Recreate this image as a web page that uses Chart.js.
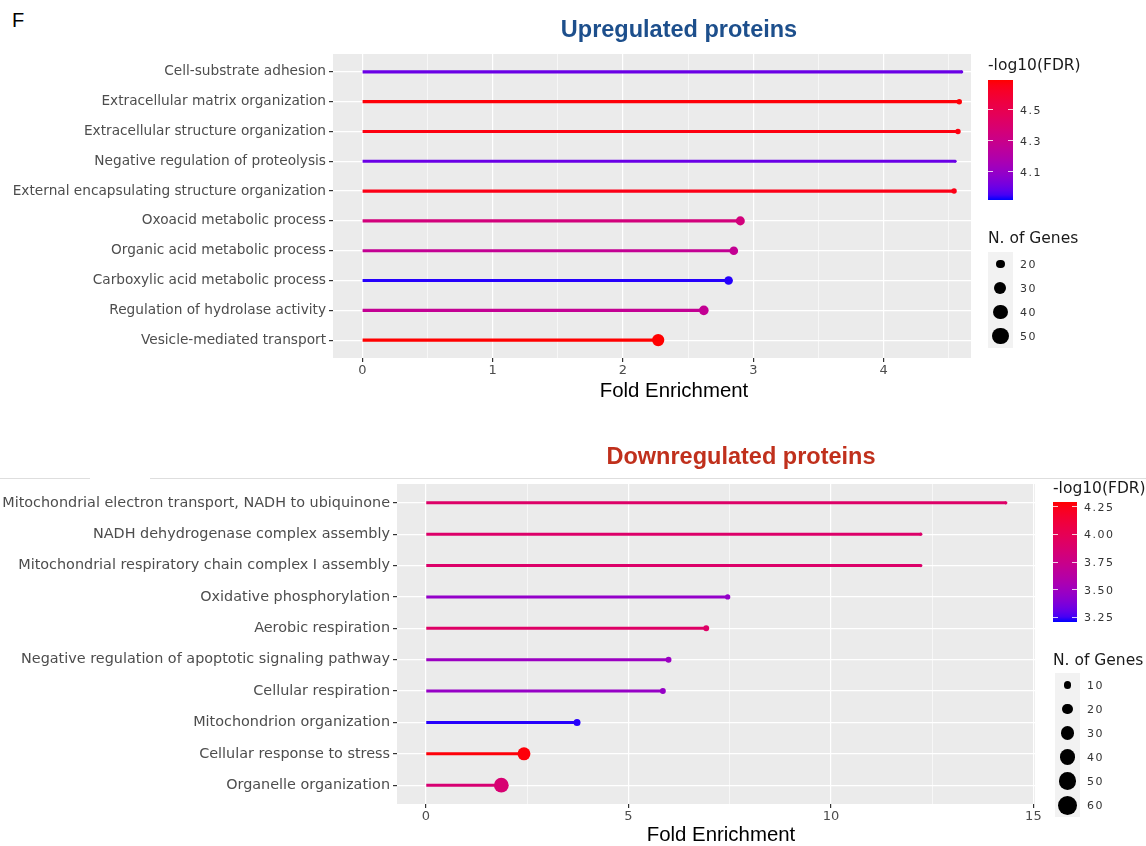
<!DOCTYPE html>
<html>
<head>
<meta charset="utf-8">
<script src="https://cdn.jsdelivr.net/npm/chart.js@4.4.1/dist/chart.umd.min.js"></script>
<style>
  html, body { margin: 0; padding: 0; background: #fff; }
  body { width: 1146px; height: 846px; position: relative; overflow: hidden; font-family: "DejaVu Sans", sans-serif; }
  .t { position: absolute; white-space: nowrap; line-height: 1; }
  canvas { position: absolute; left: 0; }
</style>
</head>
<body>
<script>
// ---- Upregulated proteins ----
const upTerms = [
  'Cell-substrate adhesion',
  'Extracellular matrix organization',
  'Extracellular structure organization',
  'Negative regulation of proteolysis',
  'External encapsulating structure organization',
  'Oxoacid metabolic process',
  'Organic acid metabolic process',
  'Carboxylic acid metabolic process',
  'Regulation of hydrolase activity',
  'Vesicle-mediated transport'
];
const upFold = [4.60, 4.58, 4.57, 4.55, 4.54, 2.90, 2.85, 2.81, 2.62, 2.27];
const upLogFdr = [4.00, 4.68, 4.67, 4.00, 4.66, 4.35, 4.27, 3.93, 4.27, 4.69];
const upGenes = [12, 18, 18, 12, 18, 32, 30, 30, 35, 50];
const upFoldTicks = [0, 1, 2, 3, 4];
const upFdrTicks = [4.1, 4.3, 4.5];
const upGeneBreaks = [20, 30, 40, 50];

// ---- Downregulated proteins ----
const downTerms = [
  'Mitochondrial electron transport, NADH to ubiquinone',
  'NADH dehydrogenase complex assembly',
  'Mitochondrial respiratory chain complex I assembly',
  'Oxidative phosphorylation',
  'Aerobic respiration',
  'Negative regulation of apoptotic signaling pathway',
  'Cellular respiration',
  'Mitochondrion organization',
  'Cellular response to stress',
  'Organelle organization'
];
const downFold = [14.32, 12.22, 12.22, 7.45, 6.92, 5.99, 5.85, 3.73, 2.42, 1.86];
const downLogFdr = [3.91, 3.90, 3.90, 3.45, 3.92, 3.48, 3.46, 3.22, 4.28, 3.86];
const downGenes = [3, 3, 3, 8, 10, 10, 10, 14, 47, 61];
const downFoldTicks = [0, 5, 10, 15];
const downFdrTicks = [3.25, 3.50, 3.75, 4.00, 4.25];
const downGeneBreaks = [10, 20, 30, 40, 50, 60];

// ---- colour gradient blue -> red interpolated in CIELAB ----
function toLin(c) { c /= 255; return c <= 0.04045 ? c / 12.92 : Math.pow((c + 0.055) / 1.055, 2.4); }
function toSrgb(c) { const v = c <= 0.0031308 ? 12.92 * c : 1.055 * Math.pow(c, 1 / 2.4) - 0.055; return Math.round(Math.max(0, Math.min(1, v)) * 255); }
function rgbToLab(rgb) {
  const r = toLin(rgb[0]), g = toLin(rgb[1]), b = toLin(rgb[2]);
  const X = (0.4124 * r + 0.3576 * g + 0.1805 * b) / 0.95047;
  const Y = 0.2126 * r + 0.7152 * g + 0.0722 * b;
  const Z = (0.0193 * r + 0.1192 * g + 0.9505 * b) / 1.08883;
  const f = t => t > 0.008856 ? Math.cbrt(t) : 7.787 * t + 16 / 116;
  const fx = f(X), fy = f(Y), fz = f(Z);
  return [116 * fy - 16, 500 * (fx - fy), 200 * (fy - fz)];
}
function labToRgb(lab) {
  const fy = (lab[0] + 16) / 116, fx = fy + lab[1] / 500, fz = fy - lab[2] / 200;
  const inv = t => t * t * t > 0.008856 ? t * t * t : (t - 16 / 116) / 7.787;
  const X = inv(fx) * 0.95047, Y = inv(fy), Z = inv(fz) * 1.08883;
  const r = 3.2406 * X - 1.5372 * Y - 0.4986 * Z;
  const g = -0.9689 * X + 1.8758 * Y + 0.0415 * Z;
  const b = 0.0557 * X - 0.2040 * Y + 1.0570 * Z;
  return [toSrgb(r), toSrgb(g), toSrgb(b)];
}
const LAB_LO = rgbToLab([0, 0, 255]);
const LAB_HI = rgbToLab([255, 0, 0]);
function gradColor(v, lo, hi) {
  const t = Math.max(0, Math.min(1, (v - lo) / (hi - lo)));
  const lab = LAB_LO.map((c, i) => c + (LAB_HI[i] - c) * t);
  const rgb = labToRgb(lab);
  return 'rgb(' + rgb.join(',') + ')';
}

// point size: area grows linearly with gene count
function dotDiameter(n, sz) { return sz.k * Math.sqrt(Math.max(0, sz.a + sz.b * n)); }

// ---- text helper ----
function addText(txt, x, y, css, anchor) {
  const d = document.createElement('div');
  d.className = 't';
  d.textContent = txt;
  d.style.left = x + 'px';
  d.style.top = y + 'px';
  Object.assign(d.style, css || {});
  d.style.transform = anchor === 'center' ? 'translate(-50%,-50%)' : 'translate(0,-50%)';
  document.body.appendChild(d);
  return d;
}
function addBox(x, y, w, h, css) {
  const d = document.createElement('div');
  d.style.position = 'absolute';
  d.style.left = x + 'px'; d.style.top = y + 'px';
  d.style.width = w + 'px'; d.style.height = h + 'px';
  Object.assign(d.style, css || {});
  document.body.appendChild(d);
  return d;
}

const panelBg = {
  id: 'panelBg',
  beforeDraw(chart) {
    const a = chart.chartArea, c = chart.ctx;
    c.save();
    c.fillStyle = '#ebebeb';
    c.fillRect(a.left, a.top, a.right - a.left, a.bottom - a.top);
    c.restore();
  }
};

function lollipopPanel(cfg) {
  const cv = document.createElement('canvas');
  cv.width = 1146; cv.height = cfg.canvasH;
  cv.style.top = cfg.canvasTop + 'px';
  document.body.appendChild(cv);

  const colors = cfg.logFdr.map(v => gradColor(v, cfg.fdrLo, cfg.fdrHi));
  const radii = cfg.genes.map(n => dotDiameter(n, cfg.size) / 2);
  const minor = cfg.foldTicks.slice(0, -1).map((v, i) => (v + cfg.foldTicks[i + 1]) / 2);
  const last = cfg.foldTicks[cfg.foldTicks.length - 1];
  const step = cfg.foldTicks[1] - cfg.foldTicks[0];
  if (last + step / 2 < cfg.xMax) minor.push(last + step / 2);
  const xTicks = cfg.foldTicks.concat(minor).sort((a, b) => a - b);
  const isMajor = v => cfg.foldTicks.indexOf(v) >= 0;

  new Chart(cv.getContext('2d'), {
    type: 'bar',
    data: {
      datasets: [
        {
          type: 'bar',
          data: cfg.fold.map((v, i) => ({ x: v, y: i })),
          backgroundColor: colors,
          borderWidth: 0,
          barThickness: cfg.lineW,
          indexAxis: 'y',
          order: 2
        },
        {
          type: 'line',
          data: cfg.fold.map((v, i) => ({ x: v, y: i })),
          indexAxis: 'y',
          showLine: false,
          pointRadius: radii,
          pointBackgroundColor: colors,
          pointBorderWidth: 0,
          pointBorderColor: colors,
          order: 1
        }
      ]
    },
    options: {
      indexAxis: 'y',
      responsive: false,
      animation: false,
      events: [],
      layout: { padding: { left: 0, top: cfg.padTop, right: cfg.padRight, bottom: cfg.padBottom } },
      plugins: { legend: { display: false }, tooltip: { enabled: false } },
      scales: {
        x: {
          type: 'linear',
          min: cfg.xMin, max: cfg.xMax,
          offset: false,
          afterBuildTicks: s => { s.ticks = xTicks.map(v => ({ value: v })); },
          afterFit: s => { s.height = 30; },
          border: { display: false },
          grid: {
            offset: false,
            color: '#ffffff',
            lineWidth: c => (c.tick && isMajor(c.tick.value)) ? 1.2 : 0.6,
            tickColor: c => (c.tick && isMajor(c.tick.value)) ? '#333333' : 'rgba(0,0,0,0)',
            tickLength: 4
          },
          ticks: {
            autoSkip: false, maxRotation: 0, padding: 1,
            color: '#4d4d4d',
            font: { family: 'DejaVu Sans', size: 13 },
            callback: v => isMajor(v) ? String(v) : ''
          }
        },
        y: {
          type: 'linear',
          reverse: true,
          offset: false,
          min: -0.6, max: cfg.terms.length - 1 + 0.6,
          afterBuildTicks: s => { s.ticks = cfg.terms.map((t, i) => ({ value: i })); },
          afterFit: s => { s.width = cfg.axisW; },
          border: { display: false },
          grid: { offset: false, color: '#ffffff', lineWidth: 1.2, tickColor: '#333333', tickLength: 4 },
          ticks: {
            autoSkip: false, padding: 3,
            color: '#4d4d4d',
            font: { family: 'DejaVu Sans', size: cfg.labelSize },
            callback: v => cfg.terms[v]
          }
        }
      }
    },
    plugins: [panelBg]
  });

  // panel title and axis title
  addText(cfg.title, cfg.titleX, cfg.titleY,
    { font: 'bold 23.5px "Liberation Sans", Arial, sans-serif', color: cfg.titleColor }, 'center');
  addText('Fold Enrichment', cfg.axTitleX, cfg.axTitleY,
    { font: '20.4px "Liberation Sans", Arial, sans-serif', color: '#000' }, 'center');

  // colour bar legend
  const L = cfg.legend;
  addText('-log10(FDR)', L.x, L.titleY, { font: '15.5px "DejaVu Sans", sans-serif', color: '#1a1a1a' });
  const stops = [];
  for (let i = 0; i <= 24; i++) {
    const v = cfg.fdrLo + (cfg.fdrHi - cfg.fdrLo) * i / 24;
    stops.push(gradColor(v, cfg.fdrLo, cfg.fdrHi) + ' ' + (i / 24 * 100).toFixed(1) + '%');
  }
  addBox(L.x, L.barTop, L.barW, L.barH, { background: 'linear-gradient(to top,' + stops.join(',') + ')' });
  cfg.fdrTicks.forEach(v => {
    const y = L.barTop + L.barH - (v - cfg.fdrLo) / (cfg.fdrHi - cfg.fdrLo) * L.barH;
    addBox(L.x, y - 0.5, L.barW / 5, 1, { background: 'rgba(255,255,255,0.8)' });
    addBox(L.x + L.barW - L.barW / 5, y - 0.5, L.barW / 5, 1, { background: 'rgba(255,255,255,0.8)' });
    addText(v.toFixed(L.dec), L.x + L.barW + 7, y, { font: '11px "DejaVu Sans", sans-serif', color: '#333', letterSpacing: '1.5px' });
  });

  // size legend
  addText('N. of Genes', L.x, L.sizeTitleY, { font: '15.5px "DejaVu Sans", sans-serif', color: '#1a1a1a' });
  addBox(L.keyX, L.keyTop, L.keyW, L.keyStep * cfg.geneBreaks.length, { background: '#f2f2f2' });
  cfg.geneBreaks.forEach((n, i) => {
    const cy = L.keyTop + L.keyStep * (i + 0.5);
    const d = dotDiameter(n, cfg.legendSize);
    addBox(L.keyX + L.keyW / 2 - d / 2, cy - d / 2, d, d, { background: '#000', borderRadius: '50%' });
    addText(String(n), L.keyX + L.keyW + 7, cy, { font: '11px "DejaVu Sans", sans-serif', color: '#333', letterSpacing: '1.5px' });
  });
}

addText('F', 12, 20, { font: '20px "Liberation Sans", Arial, sans-serif', color: '#000' });

lollipopPanel({
  canvasTop: 0, canvasH: 423,
  terms: upTerms, fold: upFold, logFdr: upLogFdr, genes: upGenes,
  foldTicks: upFoldTicks, fdrTicks: upFdrTicks, geneBreaks: upGeneBreaks,
  xMin: -0.225, xMax: 4.67,
  fdrLo: 3.92, fdrHi: 4.69,
  size: { k: 0.72, a: -72.6, b: 7.23 },
  legendSize: { k: 1, a: -72.6, b: 7.23 },
  lineW: 2.5, labelSize: 13.7,
  axisW: 333, padTop: 54, padRight: 175, padBottom: 35,
  title: 'Upregulated proteins', titleColor: '#1d4f8c', titleX: 679, titleY: 29,
  axTitleX: 674, axTitleY: 390,
  legend: {
    x: 988, titleY: 65, barTop: 80, barH: 120, barW: 25, dec: 1,
    sizeTitleY: 238, keyX: 988, keyTop: 252, keyW: 25, keyStep: 24
  }
});

lollipopPanel({
  canvasTop: 423, canvasH: 423,
  terms: downTerms, fold: downFold, logFdr: downLogFdr, genes: downGenes,
  foldTicks: downFoldTicks, fdrTicks: downFdrTicks, geneBreaks: downGeneBreaks,
  xMin: -0.716, xMax: 15.04,
  fdrLo: 3.205, fdrHi: 4.295,
  size: { k: 0.77, a: -1.4, b: 6.04 },
  legendSize: { k: 1, a: -1.4, b: 6.04 },
  lineW: 2.3, labelSize: 14.4,
  axisW: 397, padTop: 61, padRight: 111, padBottom: 12,
  title: 'Downregulated proteins', titleColor: '#c0301c', titleX: 741, titleY: 456,
  axTitleX: 721, axTitleY: 834,
  legend: {
    x: 1053, titleY: 488, barTop: 502, barH: 120, barW: 24, dec: 2,
    sizeTitleY: 660, keyX: 1055, keyTop: 673, keyW: 25, keyStep: 24
  }
});

// thin rule separating the two panels
addBox(0, 478, 90, 1, { background: '#dedede' });
addBox(150, 478, 996, 1, { background: '#dedede' });
</script>
</body>
</html>
